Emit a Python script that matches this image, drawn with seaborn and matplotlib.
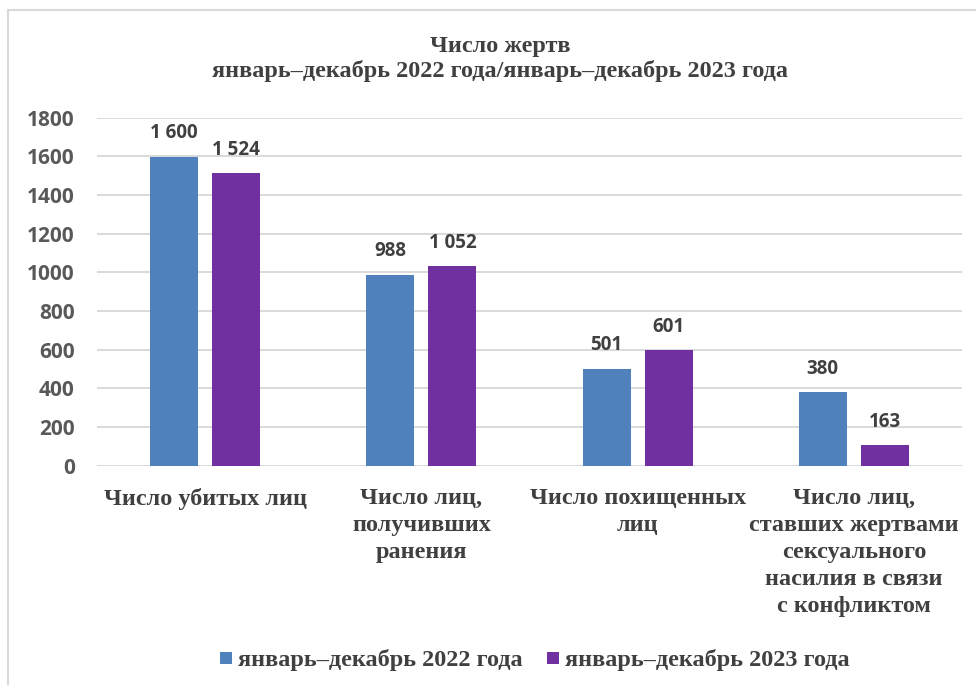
import matplotlib
matplotlib.use("Agg")
import matplotlib.pyplot as plt
from matplotlib.lines import Line2D
import seaborn as sns
import pandas as pd

categories = [
    "Число убитых лиц",
    "Число лиц,\nполучивших\nранения",
    "Число похищенных\nлиц",
    "Число лиц,\nставших жертвами\nсексуального\nнасилия в связи\nс конфликтом",
]
series_names = ["январь–декабрь 2022 года", "январь–декабрь 2023 года"]
values_2022 = [1598, 986, 500, 380]
values_2023 = [1512, 1031, 597, 105]
labels_2022 = ["1 600", "988", "501", "380"]
labels_2023 = ["1 524", "1 052", "601", "163"]
y_ticks = [0, 200, 400, 600, 800, 1000, 1200, 1400, 1600, 1800]
colors = ["#4F81BD", "#7030A0"]
title = "Число жертв\nянварь–декабрь 2022 года/январь–декабрь 2023 года"

df = pd.DataFrame({
    "cat": categories * 2,
    "series": [series_names[0]] * 4 + [series_names[1]] * 4,
    "value": values_2022 + values_2023,
})

sns.set_style("white")
W, H = 976, 685
fig = plt.figure(figsize=(W / 100, H / 100), dpi=100)
ax = fig.add_axes([97 / W, 1 - 465.7 / H, (962 - 97) / W, (465.7 - 117.7) / H])

sns.barplot(data=df, x="cat", y="value", hue="series", order=categories,
            hue_order=series_names, palette=colors, width=0.575, gap=0.227,
            linewidth=0, saturation=1, legend=False, ax=ax, errorbar=None)

SERIF = 17.5
ax.set_xlim(-0.5, 3.5)
ax.set_ylim(0, 1800)
ax.set_yticks(y_ticks)
ax.set_xlabel("")
ax.set_ylabel("")
for s in ax.spines.values():
    s.set_visible(False)
ax.yaxis.grid(True, color="#D9D9D9", linewidth=1.4)
ax.set_axisbelow(True)
ax.tick_params(axis="both", length=0)
ax.tick_params(axis="y", pad=16)
ax.tick_params(axis="x", pad=16)
for t in ax.get_yticklabels():
    t.set_fontfamily("Open Sans")
    t.set_fontweight("bold")
    t.set_fontsize(15)
    t.set_color("#595959")
for t in ax.get_xticklabels():
    t.set_fontfamily("Liberation Serif")
    t.set_fontweight("bold")
    t.set_fontsize(SERIF)
    t.set_color("#404040")
    t.set_linespacing(1.37)

# data labels
for container, labs in zip(ax.containers, [labels_2022, labels_2023]):
    for bar, lab in zip(container, labs):
        ax.annotate(lab, (bar.get_x() + bar.get_width() / 2, bar.get_height()),
                    xytext=(0, 17), textcoords="offset points", ha="center",
                    va="center", fontfamily="Open Sans", fontweight="bold",
                    fontsize=13.5, color="#404040", annotation_clip=False)

fig.text(500 / W, 1 - 59 / H, title, ha="center", va="center",
         fontfamily="Liberation Serif", fontweight="bold", fontsize=SERIF,
         color="#404040", linespacing=1.22)

handles = [Line2D([], [], marker="s", linestyle="none", markersize=8,
                  markerfacecolor=c, markeredgewidth=0) for c in colors]
leg = fig.legend(handles, series_names, loc="center", ncol=2,
                 bbox_to_anchor=(534 / W, 1 - 660 / H), frameon=False,
                 handlelength=0.6, handletextpad=0.2, columnspacing=0.95,
                 prop={"family": "Liberation Serif", "weight": "bold", "size": SERIF})
for t in leg.get_texts():
    t.set_color("#404040")

# border
fig.add_artist(Line2D([8 / W, 1], [1 - 9.5 / H, 1 - 9.5 / H], color="#D9D9D9",
                      linewidth=1.5, transform=fig.transFigure))
fig.add_artist(Line2D([8 / W, 8 / W], [0, 1 - 9.5 / H], color="#D9D9D9",
                      linewidth=1.5, transform=fig.transFigure))

fig.savefig("out.png", dpi=100)
